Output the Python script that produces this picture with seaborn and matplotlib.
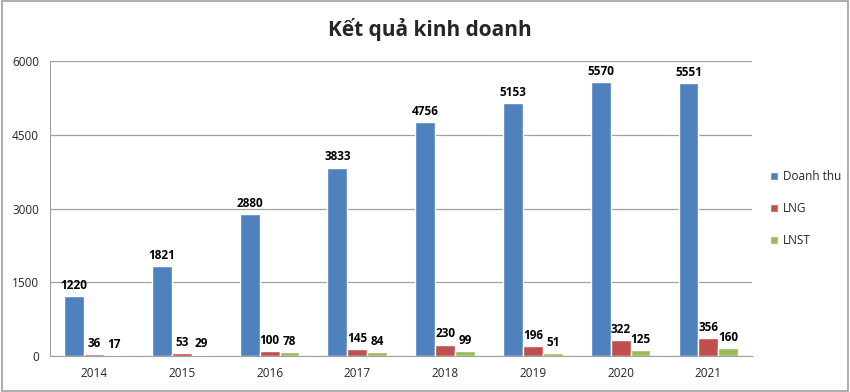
import numpy as np
import pandas as pd
import matplotlib.pyplot as plt
import seaborn as sns
from matplotlib.patches import Rectangle

years = ["2014", "2015", "2016", "2017", "2018", "2019", "2020", "2021"]
doanh_thu = [1220, 1821, 2880, 3833, 4756, 5153, 5570, 5551]
lng = [36, 53, 100, 145, 230, 196, 322, 356]
lnst = [17, 29, 78, 84, 99, 51, 125, 160]
series = ["Doanh thu", "LNG", "LNST"]
colors = ["#4F81BD", "#C0504D", "#9BBB59"]

df = pd.DataFrame({"year": years, "Doanh thu": doanh_thu, "LNG": lng, "LNST": lnst})
long = df.melt(id_vars="year", value_vars=series, var_name="series", value_name="value")

sns.set_style("white")
plt.rcParams["font.family"] = ["Open Sans", "DejaVu Sans"]

fig = plt.figure(figsize=(8.5, 3.92), dpi=100)
ax = fig.add_axes([0.059, 0.092, 0.826, 0.752])

sns.barplot(data=long, x="year", y="value", hue="series", hue_order=series,
            palette=colors, width=0.68, saturation=1, ax=ax, zorder=3)

for cont in ax.containers:
    ax.bar_label(cont, fmt="%d", padding=3, fontsize=8.5, fontweight="bold", color="black")

ax.set_ylim(0, 6000)
ax.set_yticks([0, 1500, 3000, 4500, 6000])
ax.grid(axis="y", color="#A0A0A0", linewidth=0.9, zorder=0)
ax.set_xlabel("")
ax.set_ylabel("")
ax.tick_params(axis="both", labelsize=8.5, length=0, pad=8)
for s in ["top", "right"]:
    ax.spines[s].set_visible(False)
for s in ["left", "bottom"]:
    ax.spines[s].set_color("#A0A0A0")

leg = ax.legend(loc="center left", bbox_to_anchor=(1.01, 0.5), frameon=False,
                fontsize=8.5, handlelength=0.7, handleheight=0.7, handletextpad=0.4,
                labelspacing=1.6)

fig.suptitle("Kết quả kinh doanh", fontsize=15, fontweight="bold", x=0.506, y=0.955)

fig.patches.append(Rectangle((0.002, 0.003), 0.996, 0.994, transform=fig.transFigure,
                             fill=False, edgecolor="#A0A0A0", linewidth=1.2))

fig.savefig("out.png", dpi=100)
